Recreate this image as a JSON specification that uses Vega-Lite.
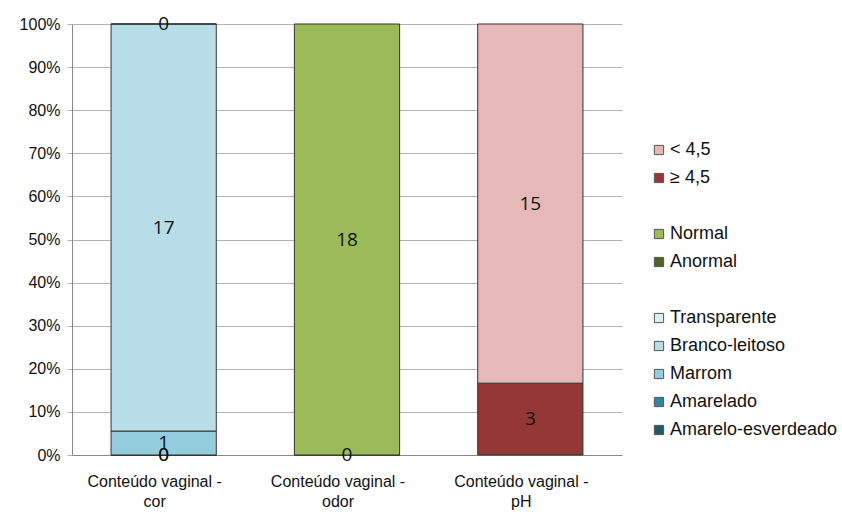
{
  "$schema": "https://vega.github.io/schema/vega-lite/v6.json",
  "width": 550,
  "height": 431,
  "autosize": {"type": "none"},
  "padding": {"left": 72, "top": 24, "right": 220, "bottom": 57},
  "background": "white",
  "config": {"view": {"stroke": null}, "font": "Liberation Sans"},
  "data": {
    "values": [
      {"cat": "Conteúdo vaginal -|cor", "serie": "Amarelo-esverdeado", "n": 0, "ord": 1},
      {"cat": "Conteúdo vaginal -|cor", "serie": "Amarelado", "n": 0, "ord": 2},
      {"cat": "Conteúdo vaginal -|cor", "serie": "Marrom", "n": 1, "ord": 3},
      {"cat": "Conteúdo vaginal -|cor", "serie": "Branco-leitoso", "n": 17, "ord": 4},
      {"cat": "Conteúdo vaginal -|cor", "serie": "Transparente", "n": 0, "ord": 5},
      {"cat": "Conteúdo vaginal -|odor", "serie": "Anormal", "n": 0, "ord": 1},
      {"cat": "Conteúdo vaginal -|odor", "serie": "Normal", "n": 18, "ord": 2},
      {"cat": "Conteúdo vaginal -|pH", "serie": "≥ 4,5", "n": 3, "ord": 1},
      {"cat": "Conteúdo vaginal -|pH", "serie": "< 4,5", "n": 15, "ord": 2}
    ]
  },
  "transform": [
    {"stack": "n", "groupby": ["cat"], "sort": [{"field": "ord", "order": "ascending"}], "offset": "normalize", "as": ["y0", "y1"]},
    {"calculate": "(datum.y0 + datum.y1) / 2", "as": "ym"}
  ],
  "encoding": {
    "x": {
      "field": "cat",
      "type": "nominal",
      "sort": null,
      "scale": {"paddingInner": 0.426, "paddingOuter": 0.213},
      "axis": {
        "title": null,
        "labelAngle": 0,
        "labelExpr": "split(datum.label, '|')",
        "labelFontSize": 16,
        "labelColor": "#111",
        "labelPadding": 18,
        "labelOffset": -9,
        "labelLineHeight": 20,
        "ticks": false,
        "domainColor": "#888",
        "domainWidth": 1
      }
    }
  },
  "layer": [
    {
      "mark": {"type": "bar", "stroke": "#333", "strokeWidth": 1},
      "encoding": {
        "y": {
          "field": "y0",
          "type": "quantitative",
          "scale": {"domain": [0, 1], "nice": false},
          "axis": {
            "title": null,
            "format": ".0%",
            "values": [0, 0.1, 0.2, 0.3, 0.4, 0.5, 0.6, 0.7, 0.8, 0.9, 1],
            "labelFontSize": 16,
            "labelColor": "#111",
            "labelPadding": 7,
            "grid": true,
            "gridColor": "#b3b3b3",
            "gridWidth": 1,
            "domainColor": "#888",
            "tickColor": "#b3b3b3",
            "tickSize": 5,
            "zindex": 0
          }
        },
        "y2": {"field": "y1"},
        "color": {
          "field": "serie",
          "type": "nominal",
          "scale": {
            "domain": ["< 4,5", "≥ 4,5", "gap1", "Normal", "Anormal", "gap2", "Transparente", "Branco-leitoso", "Marrom", "Amarelado", "Amarelo-esverdeado"],
            "range": ["#E6B9B8", "#953735", "transparent", "#9BBB59", "#4F6228", "transparent", "#DBEEF4", "#B7DEE8", "#93CDDD", "#31859C", "#215968"]
          },
          "legend": {
            "title": null,
            "orient": "none",
            "legendX": 578,
            "legendY": 117,
            "symbolType": "square",
            "symbolSize": 85,
            "symbolStrokeWidth": 1,
            "symbolStrokeColor": "#555",
            "labelFontSize": 18,
            "labelColor": "#111",
            "labelOffset": 2,
            "labelLimit": 260,
            "rowPadding": 10,
            "labelExpr": "indexof(datum.label, 'gap') == 0 ? '' : datum.label",
            "values": ["< 4,5", "≥ 4,5", "gap1", "Normal", "Anormal", "gap2", "Transparente", "Branco-leitoso", "Marrom", "Amarelado", "Amarelo-esverdeado"],
            "encode": {
              "symbols": {
                "update": {
                  "stroke": {"signal": "indexof(datum.label, 'gap') == 0 ? 'transparent' : '#555'"}
                }
              }
            }
          }
        },
        "order": {"field": "ord", "type": "quantitative"}
      }
    },
    {
      "mark": {"type": "text", "font": "Open Sans", "fontSize": 19, "color": "#111", "baseline": "middle"},
      "encoding": {
        "y": {"field": "ym", "type": "quantitative"},
        "text": {"field": "n", "type": "quantitative"}
      }
    }
  ]
}
